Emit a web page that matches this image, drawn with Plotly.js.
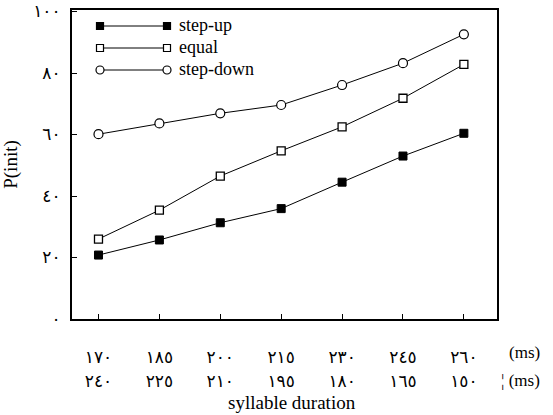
<!DOCTYPE html>
<html>
<head>
<meta charset="utf-8">
<script src="https://cdn.plot.ly/plotly-3.0.1.min.js"></script>
<style>
html,body{margin:0;padding:0;background:#fff;}
#chart{width:553px;height:415px;}
</style>
</head>
<body>
<div id="chart"></div>
<script>
// Data
const positions = [0, 1, 2, 3, 4, 5, 6];
const durationsUp = ["١٧٠", "١٨٥", "٢٠٠", "٢١٥", "٢٣٠", "٢٤٥", "٢٦٠"];
const durationsDown = ["٢٤٠", "٢٢٥", "٢١٠", "١٩٥", "١٨٠", "١٦٥", "١٥٠"];
const stepUp = [20.8, 25.7, 31.3, 35.9, 44.5, 53.0, 60.4];
const equal = [26.0, 35.4, 46.5, 54.7, 62.5, 71.8, 82.8];
const stepDown = [60.1, 63.6, 66.9, 69.6, 76.1, 83.2, 92.6];
const yTickVals = [0, 20, 40, 60, 80, 100];
const yTickText = ["٠", "٢٠", "٤٠", "٦٠", "٨٠", "١٠٠"];
const seriesNames = ["step-up", "equal", "step-down"];

const serif = "Liberation Serif, serif";
const digitFont = "DejaVu Sans, sans-serif";

const W = 553, H = 415, L = 72, R = 56, T = 10, B = 96;
const pw = W - L - R, ph = H - T - B;
const px = v => (v - L) / pw;
const py = v => (H - B - v) / ph;

const lineStyle = {color: "#000", width: 1};
const traces = [
  {x: positions, y: stepUp, name: seriesNames[0], mode: "lines+markers", line: lineStyle,
   marker: {symbol: "square", size: 8, color: "#000", line: {color: "#000", width: 1}}},
  {x: positions, y: equal, name: seriesNames[1], mode: "lines+markers", line: lineStyle,
   marker: {symbol: "square", size: 8, color: "#fff", line: {color: "#000", width: 1.3}}},
  {x: positions, y: stepDown, name: seriesNames[2], mode: "lines+markers", line: lineStyle,
   marker: {symbol: "circle", size: 9, color: "#fff", line: {color: "#000", width: 1.2}}},
  {x: positions, y: stepUp, xaxis: "x2", mode: "none", hoverinfo: "skip", showlegend: false}
];

// Legend (drawn manually: line with marker at both ends)
const legRows = [26, 48, 70];
const legX0 = 100, legX1 = 167;
const shapes = [];
const annotations = [];
const markerShape = [
  {type: "rect", fill: "#000"},
  {type: "rect", fill: "#fff"},
  {type: "circle", fill: "#fff"}
];
legRows.forEach((ry, i) => {
  shapes.push({type: "line", xref: "paper", yref: "paper", x0: px(legX0), x1: px(legX1),
    y0: py(ry), y1: py(ry), line: {color: "#000", width: 1}});
  [legX0, legX1].forEach(cx => {
    const s = markerShape[i].type === "circle" ? 4 : 3.5;
    shapes.push({type: markerShape[i].type, xref: "paper", yref: "paper",
      xsizemode: "pixel", ysizemode: "pixel", xanchor: px(cx), yanchor: py(ry),
      x0: -s, x1: s, y0: -s, y1: s, fillcolor: markerShape[i].fill,
      line: {color: "#000", width: 1.2}});
  });
  annotations.push({xref: "paper", yref: "paper", x: px(177), y: py(ry - 1), xanchor: "left",
    yanchor: "middle", showarrow: false, text: seriesNames[i],
    font: {family: serif, size: 18, color: "#000"}});
});

// (ms) labels and axis title
annotations.push({xref: "paper", yref: "paper", x: px(507), y: py(352), xanchor: "left",
  yanchor: "middle", showarrow: false, text: "(ms)", font: {family: serif, size: 17, color: "#000"}});
annotations.push({xref: "paper", yref: "paper", x: px(499), y: py(380), xanchor: "left",
  yanchor: "middle", showarrow: false, text: "¦ (ms)", font: {family: serif, size: 17, color: "#000"}});
annotations.push({xref: "paper", yref: "paper", x: px(292), y: py(403), xanchor: "center",
  yanchor: "middle", showarrow: false, text: "syllable duration", font: {family: serif, size: 19, color: "#000"}});

const layout = {
  width: W, height: H,
  margin: {l: L, r: R, t: T, b: B},
  paper_bgcolor: "#fff", plot_bgcolor: "#fff",
  showlegend: false,
  xaxis: {range: [-0.435, 6.544], tickvals: positions, ticktext: durationsUp,
    ticks: "inside", ticklen: 5, tickcolor: "#000", tickwidth: 1,
    showline: true, linecolor: "#000", linewidth: 2, mirror: true,
    showgrid: false, zeroline: false, ticklabelstandoff: 22,
    tickfont: {family: digitFont, size: 17, color: "#000"}},
  xaxis2: {overlaying: "x", matches: "x", side: "bottom", tickvals: positions, ticktext: durationsDown,
    ticks: "", showline: false, showgrid: false, zeroline: false, ticklabelstandoff: 50,
    tickfont: {family: digitFont, size: 17, color: "#000"}},
  yaxis: {range: [0, 100.5], tickvals: yTickVals, ticktext: yTickText,
    ticks: "inside", ticklen: 5, tickcolor: "#000", tickwidth: 1,
    showline: true, linecolor: "#000", linewidth: 2, mirror: true,
    showgrid: false, zeroline: false, ticklabelstandoff: 6,
    tickfont: {family: digitFont, size: 17, color: "#000"},
    title: {text: "P(init)", font: {family: serif, size: 19, color: "#000"}, standoff: 12}},
  shapes: shapes,
  annotations: annotations
};

Plotly.newPlot("chart", traces, layout, {displayModeBar: false, staticPlot: true});
</script>
</body>
</html>
